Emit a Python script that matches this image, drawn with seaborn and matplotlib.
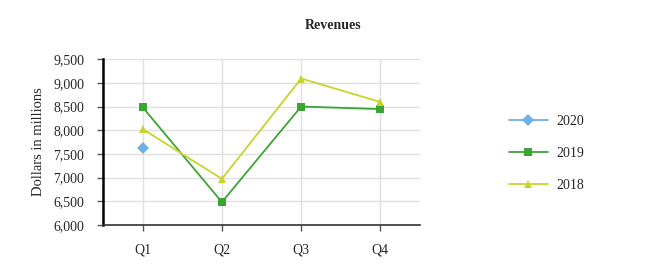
import matplotlib
matplotlib.use("Agg")
import matplotlib.pyplot as plt
import seaborn as sns
import pandas as pd
from matplotlib.lines import Line2D

quarters = ["Q1", "Q2", "Q3", "Q4"]
rev_2020 = [7620]
rev_2019 = [8485, 6485, 8500, 8445]
rev_2018 = [8025, 6975, 9090, 8595]
years = ["2020", "2019", "2018"]
colors = {"2020": "#6cb2e4", "2019": "#3aa534", "2018": "#c8d42a"}
markers = {"2020": "D", "2019": "s", "2018": "^"}

rows = []
for yr, vals in zip(years, [rev_2020, rev_2019, rev_2018]):
    for q, v in zip(quarters, vals):
        rows.append({"Quarter": quarters.index(q), "Year": yr, "Value": v})
df = pd.DataFrame(rows)

sns.set_theme(style="white")
plt.rcParams["font.family"] = ["Liberation Serif", "DejaVu Serif"]

fig = plt.figure(figsize=(6.66, 2.8), dpi=100)
ax = fig.add_axes([0.1547, 0.196, 0.476, 0.593])

sns.lineplot(data=df, x="Quarter", y="Value", hue="Year", style="Year",
             hue_order=years, style_order=years, palette=colors,
             markers=markers, dashes=False, markersize=6, linewidth=1.3,
             markeredgewidth=0, ax=ax, legend=False, sort=False)

ax.set_xlim(-0.5, 3.5)
ax.set_ylim(6000, 9500)
ax.set_xticks(range(len(quarters)))
ax.set_xticklabels(quarters)
ax.set_yticks(range(6000, 9501, 500))
ax.set_yticklabels([f"{v:,}" for v in range(6000, 9501, 500)])
ax.grid(True, color="#e0e0e0", linewidth=1)
ax.set_axisbelow(True)
for s in ["top", "right"]:
    ax.spines[s].set_visible(False)
ax.spines["left"].set_color("black")
ax.spines["left"].set_linewidth(1.8)
ax.spines["bottom"].set_color("#333333")
ax.spines["bottom"].set_linewidth(1.2)
ax.tick_params(axis="y", which="both", direction="out", length=4.5, width=1,
               color="#555555", labelsize=10, pad=9, left=True)
ax.tick_params(axis="x", which="both", direction="out", length=4.5, width=1,
               color="#555555", labelsize=10, pad=9, bottom=True)
ax.set_xlabel("")
ax.set_ylabel("Dollars in millions", fontsize=10.5, labelpad=6)

fig.text(0.5, 0.91, "Revenues", ha="center", va="center",
         fontsize=10, fontweight="bold")

handles = [Line2D([0], [0], color=colors[y], marker=markers[y], markersize=6,
                  markeredgewidth=0, linewidth=1.3) for y in years]
fig.legend(handles, years, loc="center left", bbox_to_anchor=(0.745, 0.452),
           frameon=False, fontsize=10, handlelength=2.85, labelspacing=1.35,
           handletextpad=0.6)

fig.savefig("out.png", dpi=100)
